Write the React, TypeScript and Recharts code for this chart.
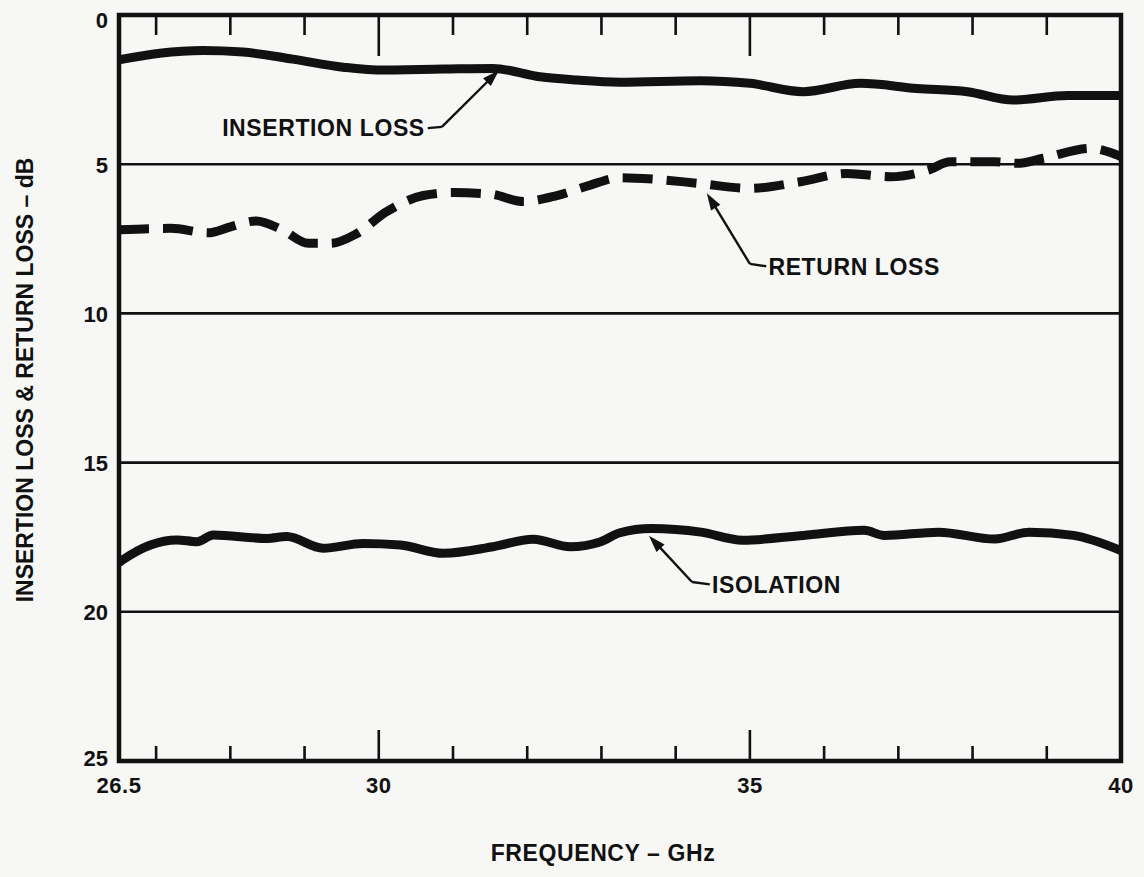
import React from 'react';
import { LineChart, Line, XAxis, YAxis, ReferenceLine, ReferenceArea, ReferenceDot, Label } from 'recharts';

// ---- Data (frequency in GHz, loss in dB) ----
const insertionFreq = [26.5, 27.05, 27.63, 28.17, 28.84, 29.52, 29.98, 30.87, 31.54, 32.17, 32.67, 33.25, 34.33, 35.0, 35.72, 36.49, 37.25, 37.93, 38.55, 39.28, 40];
const insertionLoss = [1.5, 1.28, 1.19, 1.24, 1.48, 1.75, 1.84, 1.81, 1.79, 2.07, 2.18, 2.25, 2.2, 2.29, 2.57, 2.29, 2.46, 2.57, 2.85, 2.7, 2.7];

const returnFreq = [26.5, 27.2, 27.7, 28.0, 28.35, 28.7, 29.05, 29.35, 29.7, 30.1, 30.6, 31.0, 31.5, 31.95, 32.4, 32.85, 33.25, 33.7, 34.3, 35.0, 35.7, 36.3, 36.9, 37.4, 37.7, 38.3, 38.6, 38.95, 39.6, 39.85, 40];
const returnLoss = [7.2, 7.15, 7.3, 7.1, 6.9, 7.2, 7.65, 7.65, 7.33, 6.6, 6.05, 5.95, 6.0, 6.25, 6.05, 5.7, 5.45, 5.5, 5.64, 5.81, 5.58, 5.31, 5.42, 5.2, 4.92, 4.92, 4.97, 4.8, 4.47, 4.6, 4.75];

const isolationFreq = [26.5, 26.55, 27.28, 27.55, 27.77, 28.49, 28.76, 29.25, 29.79, 30.29, 30.87, 31.54, 32.08, 32.58, 32.98, 33.25, 33.67, 34.34, 34.9, 35.72, 36.54, 36.81, 37.54, 38.3, 38.76, 39.36, 40];
const isolation = [18.35, 18.26, 17.59, 17.65, 17.43, 17.54, 17.48, 17.87, 17.71, 17.76, 18.04, 17.82, 17.57, 17.82, 17.66, 17.35, 17.21, 17.33, 17.6, 17.44, 17.27, 17.44, 17.33, 17.56, 17.33, 17.44, 17.95];

const xTicks = [26.5, 27, 28, 29, 30, 31, 32, 33, 34, 35, 36, 37, 38, 39, 40];
const innerTicks = [27, 28, 29, 30, 31, 32, 33, 34, 35, 36, 37, 38, 39];
const xMajorTicks = [30, 35];
const xLabelTicks = [26.5, 30, 35, 40];
const yTicks = [0, 5, 10, 15, 20, 25];
const gridValues = [5, 10, 15, 20];
const xDomain = [26.5, 40];

// annotations: text anchor point, stub start, elbow, arrow tip
const annInsertion = { text: 'INSERTION LOSS', tx: 30.62, ty: 3.79, sx: 30.66, sy: 3.79, ex: 30.85, ey: 3.75, px: 31.62, py: 1.85, anchor: 'end' };
const annReturn = { text: 'RETURN LOSS', tx: 35.25, ty: 8.44, sx: 35.22, sy: 8.42, ex: 35.0, ey: 8.34, px: 34.42, py: 5.97, anchor: 'start' };
const annIsolation = { text: 'ISOLATION', tx: 34.49, ty: 19.1, sx: 34.46, sy: 19.08, ex: 34.22, ey: 19.0, px: 33.64, py: 17.45, anchor: 'start' };
const annotations = [annInsertion, annReturn, annIsolation];

const toRows = (f: number[], v: number[]) => f.map((x, i) => ({ f: x, v: v[i] }));
const insertionData = toRows(insertionFreq, insertionLoss);
const returnData = toRows(returnFreq, returnLoss);
const isolationData = toRows(isolationFreq, isolation);

const INK = '#111';
const FONT = '"Liberation Sans", Arial, Helvetica, sans-serif';
const CHART_W = 1144;
const CHART_H = 877;
const MARGIN = { top: 15, right: 23, left: 59, bottom: 76 };
const X_AXIS_H = 40;
const Y_AXIS_W = 60;
const PLOT_H = CHART_H - MARGIN.top - MARGIN.bottom - X_AXIS_H;
const PLOT_L = MARGIN.left + Y_AXIS_W;
const PLOT_W = CHART_W - PLOT_L - MARGIN.right;
const xPix = (f: number) => PLOT_L + ((f - xDomain[0]) / (xDomain[1] - xDomain[0])) * PLOT_W;

const BottomTick = (props: any) => {
  const { x, y, payload } = props;
  const v = payload.value;
  const edge = v === 26.5 || v === 40;
  const lenB = xMajorTicks.includes(v) ? 31 : 15;
  return (
    <g>
      {!edge && <rect x={x - 1.3} y={y - lenB} width={2.6} height={lenB} fill={INK} />}
      {xLabelTicks.includes(v) && (
        <text x={x} y={y + 32} textAnchor="middle" fontFamily={FONT} fontWeight="bold" fontSize={22} fill={INK} letterSpacing={0.5}>
          {String(v)}
        </text>
      )}
    </g>
  );
};

const LeftTick = (props: any) => {
  const { x, y, payload } = props;
  const v = payload.value;
  const dy = v === 0 ? 5 : v === 25 ? -3 : 1;
  return (
    <text x={x} y={y + dy} dominantBaseline="central" textAnchor="end" fontFamily={FONT} fontWeight="bold" fontSize={22} fill={INK}>
      {String(v)}
    </text>
  );
};

const ArrowShape = (p: any) => {
  const { x1, y1, x2, y2 } = p;
  const ang = Math.atan2(y2 - y1, x2 - x1);
  const L = 17;
  const W = 5.5;
  const c = Math.cos(ang);
  const s = Math.sin(ang);
  const bx = x2 - L * c;
  const by = y2 - L * s;
  const pts = `${x2},${y2} ${bx - W * s},${by + W * c} ${bx + W * s},${by - W * c}`;
  return (
    <g>
      <line x1={x1} y1={y1} x2={bx + 2 * c} y2={by + 2 * s} stroke={INK} strokeWidth={2.4} />
      <polygon points={pts} fill={INK} />
    </g>
  );
};

export default function App() {
  return (
    <div style={{ position: 'absolute', left: 0, top: 0, width: CHART_W, height: CHART_H, background: '#f7f7f5' }}>
      <LineChart width={CHART_W} height={CHART_H} margin={MARGIN}>
        <XAxis
          dataKey="f"
          type="number"
          domain={xDomain}
          ticks={xTicks}
          interval={0}
          allowDataOverflow
          axisLine={false}
          tickLine={false}
          tickSize={0}
          tickMargin={0}
          height={X_AXIS_H}
          tick={BottomTick}
        >
          <Label
            content={(props: any) => {
              const vb = props.viewBox || { x: 119, y: 761, width: 1002, height: 40 };
              return (
                <text x={vb.x + vb.width / 2 - 17} y={vb.y + vb.height + 60} textAnchor="middle" fontFamily={FONT} fontWeight="bold" fontSize={23} fill={INK} letterSpacing={0.6}>
                  FREQUENCY – GHz
                </text>
              );
            }}
          />
        </XAxis>
        <YAxis
          type="number"
          domain={[0, 25]}
          reversed
          ticks={yTicks}
          interval={0}
          allowDataOverflow
          axisLine={false}
          tickLine={false}
          tickSize={0}
          tickMargin={11}
          width={Y_AXIS_W}
          tick={LeftTick}
        >
          <Label
            content={(props: any) => {
              const vb = props.viewBox || { x: 59, y: 15, width: 60, height: 746 };
              const cx = vb.x - 34;
              const cy = vb.y + vb.height / 2 - 8;
              return (
                <text x={cx} y={cy} transform={`rotate(-90, ${cx}, ${cy})`} textAnchor="middle" dominantBaseline="central" fontFamily={FONT} fontWeight="bold" fontSize={23} fill={INK}>
                  INSERTION LOSS &amp; RETURN LOSS – dB
                </text>
              );
            }}
          />
        </YAxis>

        {gridValues.map((g) => (
          <ReferenceLine key={`g${g}`} y={g} stroke={INK} strokeWidth={2.6} />
        ))}

        <Line data={insertionData} dataKey="v" type="monotone" stroke={INK} strokeWidth={9} dot={false} isAnimationActive={false} />
        <Line data={returnData} dataKey="v" type="monotone" stroke={INK} strokeWidth={9} strokeDasharray="30 14" dot={false} isAnimationActive={false} />
        <Line data={isolationData} dataKey="v" type="monotone" stroke={INK} strokeWidth={9} dot={false} isAnimationActive={false} />

        {annotations.map((a, i) => (
          <ReferenceLine key={`s${i}`} segment={[{ x: a.sx, y: a.sy }, { x: a.ex, y: a.ey }]} stroke={INK} strokeWidth={2.4} ifOverflow="visible" />
        ))}
        {annotations.map((a, i) => (
          <ReferenceLine key={`a${i}`} segment={[{ x: a.ex, y: a.ey }, { x: a.px, y: a.py }]} shape={ArrowShape} ifOverflow="visible" />
        ))}
        {annotations.map((a, i) => (
          <ReferenceDot
            key={`t${i}`}
            x={a.tx}
            y={a.ty}
            r={0}
            ifOverflow="visible"
            shape={(p: any) => (
              <text x={p.cx} y={p.cy} textAnchor={a.anchor} dominantBaseline="central" fontFamily={FONT} fontWeight="bold" fontSize={23} fill={INK} letterSpacing={0.6}>
                {a.text}
              </text>
            )}
          />
        ))}

        <ReferenceArea x1={26.5} x2={40} y1={0} y2={25} fill="none" fillOpacity={0} stroke={INK} strokeWidth={4.5} ifOverflow="visible" />
      </LineChart>
      {/* tick marks hanging from the top frame */}
      <svg
        width={CHART_W}
        height={CHART_H}
        style={{ position: 'absolute', left: 0, top: 0, pointerEvents: 'none', zIndex: 5 }}
      >
        {innerTicks.map((t) => {
          const len = xMajorTicks.includes(t) ? 41 : 20;
          return <rect key={t} x={xPix(t) - 1.3} y={MARGIN.top} width={2.6} height={len} fill={INK} />;
        })}
      </svg>
    </div>
  );
}
